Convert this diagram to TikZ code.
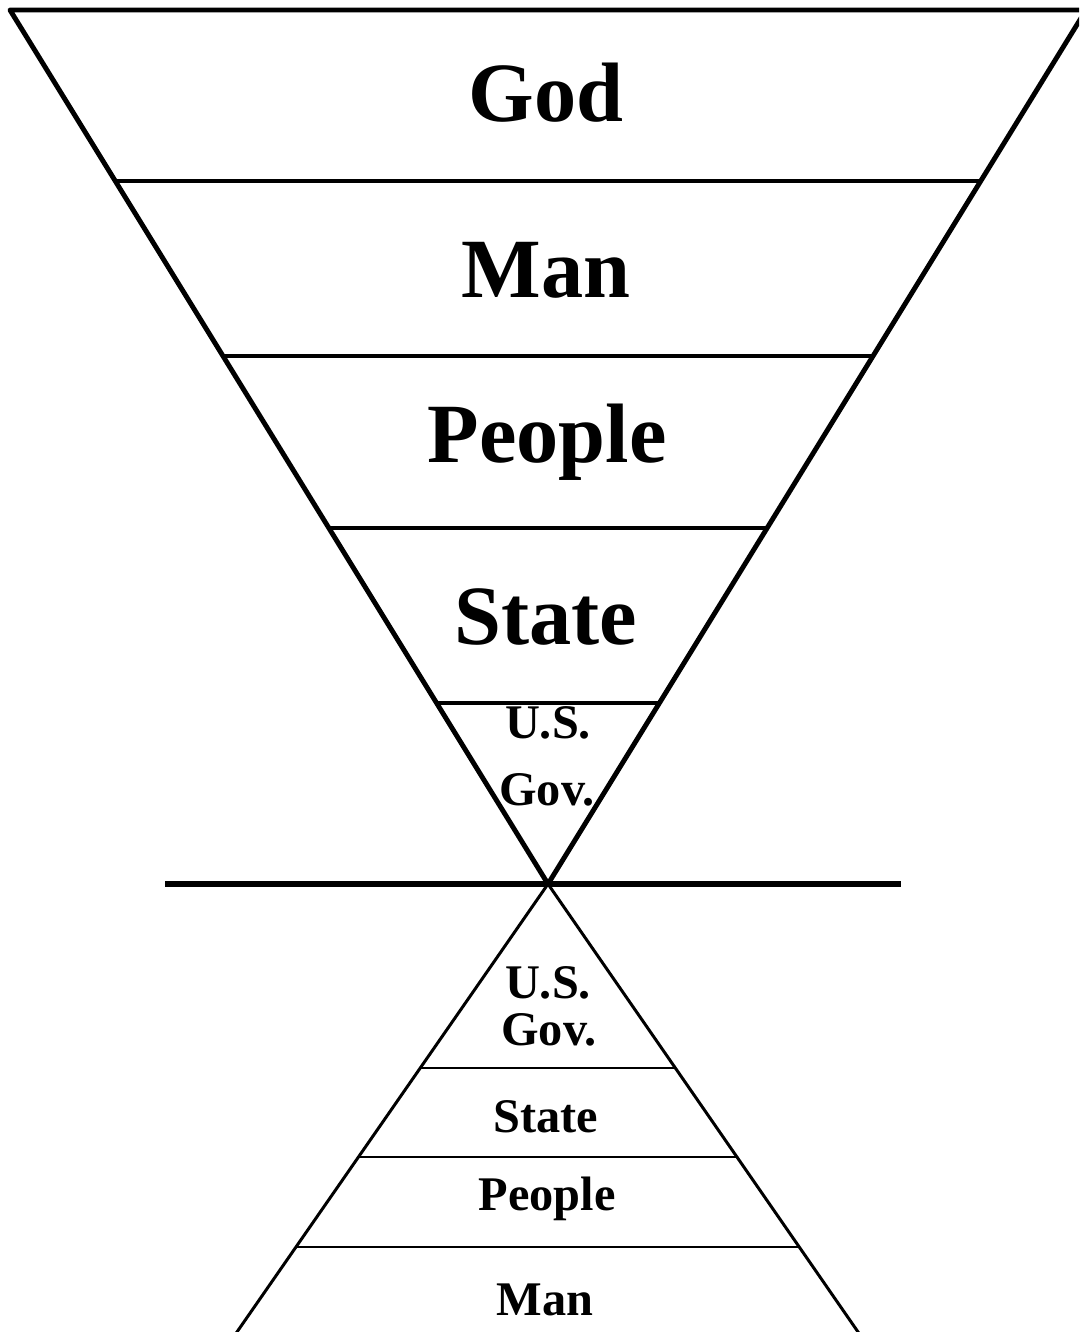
\documentclass[tikz,border=0pt]{standalone}
\usepackage{fontspec}
\setmainfont{Liberation Serif}
\usetikzlibrary{positioning,calc}

\tikzset{
  biglabel/.style={font=\fontsize{48}{50}\selectfont\bfseries, anchor=base, inner sep=0pt},
  smalllabel/.style={font=\fontsize{27.5}{30}\selectfont\bfseries, anchor=base, inner sep=0pt},
  outline/.style={line width=2.8pt, line join=round, line cap=round},
  topdivider/.style={line width=2.2pt},
  middleline/.style={line width=3.4pt},
  lowoutline/.style={line width=1.7pt},
  lowdivider/.style={line width=1.1pt}
}

\begin{document}
\begin{tikzpicture}[x=0.02cm,y=-0.02cm]
    \useasboundingbox (0,0) rectangle (1079,1332);
    \clip (0,0) rectangle (1079,1332);

    % inverted triangle
    \coordinate (apex) at (548,884);
    \draw[outline] (10,10) -- (1086,10) -- (apex) -- cycle;
    \foreach \yy in {181,356,528,703}
        \draw[topdivider] ({548-0.6156*(884-\yy)},\yy) -- ({548+0.6156*(884-\yy)},\yy);

    \node[biglabel] (god) at (546,121) {God};
    \node[biglabel] (man) at (546,297) {Man};
    \node[biglabel] (people) at (547,462) {People};
    \node[biglabel] (state) at (546,644) {State};
    \node[smalllabel] (usgov) at (548,738) {U.S.};
    \node[smalllabel] (gov) at (547,805) {Gov.};

    % dividing line
    \draw[middleline] (165,884) -- (901,884);

    % upright triangle
    \draw[lowoutline] (230,1342) -- (apex) -- (865,1342);
    \foreach \yy in {1068,1157,1247}
        \draw[lowdivider] ({548-0.693*(\yy-884)},\yy) -- ({548+0.693*(\yy-884)},\yy);

    \node[smalllabel] (lowus) at (548,998) {U.S.};
    \node[smalllabel] (lowgov) at (549,1045) {Gov.};
    \node[smalllabel] (lowstate) at (546,1132) {State};
    \node[smalllabel] (lowpeople) at (547,1210) {People};
    \node[smalllabel] (lowman) at (545,1315) {Man};
\end{tikzpicture}
\end{document}
